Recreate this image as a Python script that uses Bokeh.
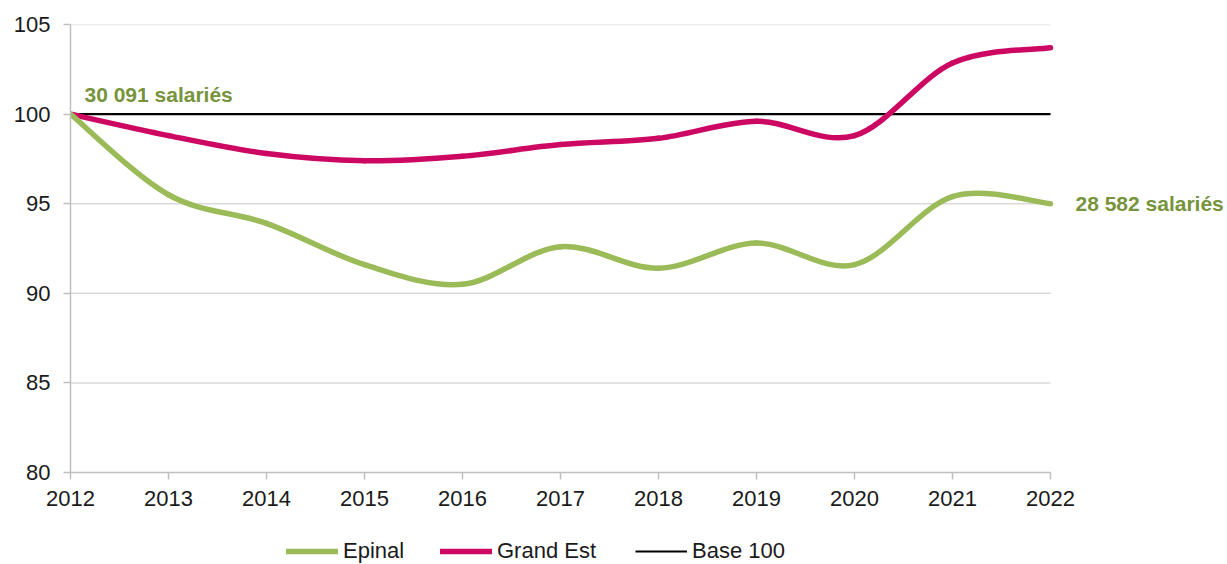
from bokeh.plotting import figure
from bokeh.layouts import column
from bokeh.models import Label, Legend, LegendItem, ColumnDataSource, Range1d
from bokeh.embed import file_html
from bokeh.resources import INLINE

# ---- data ----
years = [2012, 2013, 2014, 2015, 2016, 2017, 2018, 2019, 2020, 2021, 2022]
epinal = [100.0, 95.5, 93.9, 91.6, 90.5, 92.6, 91.4, 92.8, 91.6, 95.4, 95.0]
grand_est = [100.0, 98.8, 97.8, 97.4, 97.65, 98.3, 98.65, 99.6, 98.8, 102.85, 103.7]
base_100 = [100, 100, 100, 100, 100, 100, 100, 100, 100, 100, 100]
y_ticks = [80, 85, 90, 95, 100, 105]
series_names = ["Epinal", "Grand Est", "Base 100"]
start_label = "30 091 salariés"
end_label = "28 582 salariés"

FONT = "Liberation Sans"
GREEN = "#9BBB59"
MAGENTA = "#CC0863"
LABEL_GREEN = "#77933C"
TXT = "#1A1A1A"
AX = "#BFBFBF"


def smooth_segments(xs, ys, k=1.0 / 6.0):
    """Cubic Bezier segments through the data points (Catmull-Rom style smoothing)."""
    n = len(xs)
    d = dict(x0=[], y0=[], x1=[], y1=[], cx0=[], cy0=[], cx1=[], cy1=[])
    for i in range(n - 1):
        a = max(i - 1, 0)
        b = min(i + 2, n - 1)
        d["x0"].append(xs[i]); d["y0"].append(ys[i])
        d["x1"].append(xs[i + 1]); d["y1"].append(ys[i + 1])
        d["cx0"].append(xs[i] + (xs[i + 1] - xs[a]) * k)
        d["cy0"].append(ys[i] + (ys[i + 1] - ys[a]) * k)
        d["cx1"].append(xs[i + 1] - (xs[b] - xs[i]) * k)
        d["cy1"].append(ys[i + 1] - (ys[b] - ys[i]) * k)
    return ColumnDataSource(d)


# plot area: 98 px per year, frame extended to the right edge to host the end label
FRAME_W = 1157
PX_PER_YEAR = 98
p = figure(frame_width=FRAME_W, frame_height=448,
           x_range=Range1d(years[0], years[0] + FRAME_W / PX_PER_YEAR),
           y_range=Range1d(y_ticks[0], y_ticks[-1]),
           output_backend="svg", toolbar_location=None,
           min_border_left=70, min_border_right=0,
           min_border_top=24, min_border_bottom=45)

p.outline_line_color = None
p.background_fill_color = "white"
p.border_fill_color = "white"

# axes
p.xaxis.ticker = years
p.xaxis.bounds = (years[0], years[-1])
p.yaxis.ticker = y_ticks
for ax in (p.xaxis, p.yaxis):
    ax.axis_line_color = AX
    ax.axis_line_width = 1.5
    ax.major_tick_line_color = AX
    ax.major_tick_line_width = 1.5
    ax.major_tick_in = 0
    ax.major_tick_out = 7
    ax.minor_tick_line_color = None
    ax.major_label_text_font = FONT
    ax.major_label_text_font_size = "22px"
    ax.major_label_text_color = TXT
p.xaxis.major_label_standoff = 11
p.yaxis.major_label_standoff = 13

# horizontal gridlines limited to the year span
p.xgrid.visible = False
p.ygrid.visible = False
p.segment(x0=[years[0]] * (len(y_ticks) - 1), x1=[years[-1]] * (len(y_ticks) - 1),
          y0=y_ticks[1:], y1=y_ticks[1:], line_color="#D9D9D9", line_width=1.5)

# series
p.line(years, base_100, line_color="black", line_width=2.2)
p.bezier(x0="x0", y0="y0", x1="x1", y1="y1", cx0="cx0", cy0="cy0", cx1="cx1", cy1="cy1",
         source=smooth_segments(years, grand_est), line_color=MAGENTA, line_width=5.5,
         line_cap="round")
p.bezier(x0="x0", y0="y0", x1="x1", y1="y1", cx0="cx0", cy0="cy0", cx1="cx1", cy1="cy1",
         source=smooth_segments(years, epinal), line_color=GREEN, line_width=5.5,
         line_cap="round")

# value labels
p.add_layout(Label(x=years[0], y=epinal[0], x_offset=14, y_offset=20, text=start_label,
                   text_font=FONT, text_font_size="21px", text_font_style="bold",
                   text_color=LABEL_GREEN, text_baseline="middle"))
p.add_layout(Label(x=years[-1], y=epinal[-1], x_offset=25, y_offset=0, text=end_label,
                   text_font=FONT, text_font_size="21px", text_font_style="bold",
                   text_color=LABEL_GREEN, text_baseline="middle"))

# ---- legend strip (its frame is aligned with the chart's frame) ----
lg = figure(width=1227, height=50, output_backend="svg", toolbar_location=None,
            x_axis_location=None, y_axis_location=None, min_border=0,
            x_range=Range1d(-10, -9), y_range=Range1d(-10, -9))
lg.grid.visible = False
lg.outline_line_color = None
lg.border_fill_color = "white"

# legend proxies: same series, kept outside the strip's visible range
r_ep = lg.line(years, epinal, line_color=GREEN, line_width=5.5, line_cap="round")
r_ge = lg.line(years, grand_est, line_color=MAGENTA, line_width=5.5, line_cap="round")
r_b = lg.line(years, base_100, line_color="black", line_width=2)

for name, r, xpos in zip(series_names, [r_ep, r_ge, r_b], [216, 370, 565]):
    lg.add_layout(Legend(items=[LegendItem(label=name, renderers=[r])],
                         orientation="horizontal", location=(xpos, 3),
                         padding=0, margin=0, spacing=0, label_standoff=5,
                         glyph_width=52, glyph_height=22, label_height=22,
                         label_text_font=FONT, label_text_font_size="22px",
                         label_text_color=TXT,
                         border_line_color=None, background_fill_alpha=0), "center")

layout = column(p, lg, spacing=0)
open("out.html", "w").write(file_html(layout, INLINE))
